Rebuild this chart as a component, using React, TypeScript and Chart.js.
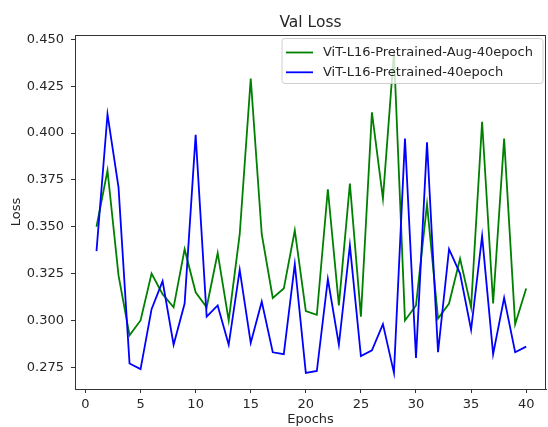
import React, { useEffect, useRef } from "react";
import { Chart, registerables } from "chart.js";

Chart.register(...registerables);

const epochs = [1, 2, 3, 4, 5, 6, 7, 8, 9, 10, 11, 12, 13, 14, 15, 16, 17, 18, 19, 20, 21, 22, 23, 24, 25, 26, 27, 28, 29, 30, 31, 32, 33, 34, 35, 36, 37, 38, 39, 40];

const augLoss = [
  0.350, 0.380, 0.324, 0.292, 0.300, 0.325, 0.314, 0.307, 0.338, 0.315,
  0.307, 0.336, 0.300, 0.346, 0.429, 0.346, 0.312, 0.317, 0.348, 0.305,
  0.303, 0.370, 0.308, 0.373, 0.302, 0.411, 0.365, 0.443, 0.300, 0.308,
  0.362, 0.301, 0.309, 0.333, 0.307, 0.406, 0.309, 0.397, 0.298, 0.317,
];

const baseLoss = [
  0.337, 0.410, 0.371, 0.277, 0.274, 0.306, 0.321, 0.287, 0.309, 0.399,
  0.302, 0.308, 0.287, 0.327, 0.288, 0.310, 0.283, 0.282, 0.330, 0.272,
  0.273, 0.322, 0.287, 0.340, 0.281, 0.284, 0.298, 0.272, 0.397, 0.280,
  0.395, 0.283, 0.338, 0.325, 0.295, 0.345, 0.282, 0.312, 0.283, 0.286,
];

const seriesNames = ["ViT-L16-Pretrained-Aug-40epoch", "ViT-L16-Pretrained-40epoch"];
const seriesColors = ["#008000", "#0000ff"];
const xTicks = [0, 5, 10, 15, 20, 25, 30, 35, 40];
const yTicks = [0.275, 0.3, 0.325, 0.35, 0.375, 0.4, 0.425, 0.45];

const chartTitle = "Val Loss";
const xLabel = "Epochs";
const yLabel = "Loss";

const FONT = "'DejaVu Sans', sans-serif";
const TEXT = "#262626";
const AXIS = "#333333";

const frameAndLegend = {
  id: "frameAndLegend",
  afterDatasetsDraw(chart: any) {
    const { ctx, chartArea } = chart;
    const { left, right, top, bottom } = chartArea;
    ctx.save();
    // top and right spines
    ctx.strokeStyle = AXIS;
    ctx.lineWidth = 1;
    ctx.beginPath();
    ctx.moveTo(left, Math.round(top) + 0.5);
    ctx.lineTo(right, Math.round(top) + 0.5);
    ctx.moveTo(Math.round(right) - 0.5, top);
    ctx.lineTo(Math.round(right) - 0.5, bottom);
    ctx.stroke();

    // legend
    const bw = 261;
    const bh = 45;
    const bx = right - 3 - bw;
    const by = top + 3.5;
    ctx.beginPath();
    const r = 3;
    ctx.moveTo(bx + r, by);
    ctx.lineTo(bx + bw - r, by);
    ctx.quadraticCurveTo(bx + bw, by, bx + bw, by + r);
    ctx.lineTo(bx + bw, by + bh - r);
    ctx.quadraticCurveTo(bx + bw, by + bh, bx + bw - r, by + bh);
    ctx.lineTo(bx + r, by + bh);
    ctx.quadraticCurveTo(bx, by + bh, bx, by + bh - r);
    ctx.lineTo(bx, by + r);
    ctx.quadraticCurveTo(bx, by, bx + r, by);
    ctx.closePath();
    ctx.fillStyle = "rgba(255,255,255,0.8)";
    ctx.fill();
    ctx.strokeStyle = "#d0d0d0";
    ctx.lineWidth = 1;
    ctx.stroke();

    ctx.font = `13px ${FONT}`;
    ctx.textBaseline = "middle";
    ctx.textAlign = "left";
    seriesNames.forEach((name, i) => {
      const yy = by + 14 + i * 19.8;
      ctx.strokeStyle = seriesColors[i];
      ctx.lineWidth = 1.8;
      ctx.beginPath();
      ctx.moveTo(bx + 4, yy);
      ctx.lineTo(bx + 31, yy);
      ctx.stroke();
      ctx.fillStyle = TEXT;
      ctx.fillText(name, bx + 41, yy + 0.5);
    });
    ctx.restore();
  },
};

export default function App() {
  const ref = useRef<HTMLCanvasElement | null>(null);

  useEffect(() => {
    if (!ref.current) return;
    const lossSets = [augLoss, baseLoss];
    const chart = new Chart(ref.current, {
      type: "line",
      data: {
        datasets: lossSets.map((vals, i) => ({
          label: seriesNames[i],
          data: epochs.map((e, j) => ({ x: e, y: vals[j] })),
          borderColor: seriesColors[i],
          backgroundColor: seriesColors[i],
          borderWidth: 1.8,
          pointRadius: 0,
          tension: 0,
          fill: false,
          order: i === 0 ? 1 : 0,
        })),
      },
      options: {
        responsive: false,
        animation: false,
        devicePixelRatio: 1,
        layout: { padding: { left: 0, right: 2, top: 0, bottom: 0 } },
        plugins: {
          legend: { display: false },
          tooltip: { enabled: false },
          title: {
            display: true,
            text: chartTitle,
            fullSize: false,
            color: TEXT,
            font: { family: FONT, size: 15.5, weight: "normal" },
            padding: { top: 14, bottom: 2.4 },
          },
        },
        scales: {
          x: {
            type: "linear",
            min: -0.95,
            max: 41.8,
            afterBuildTicks: (s: any) => {
              s.ticks = xTicks.map((v) => ({ value: v }));
            },
            afterFit: (s: any) => {
              s.height = 38;
            },
            ticks: {
              color: TEXT,
              font: { family: FONT, size: 13 },
              padding: 4,
              maxRotation: 0,
              autoSkip: false,
            },
            grid: { drawOnChartArea: false, tickLength: 4, color: AXIS },
            border: { color: AXIS, width: 1 },
            title: {
              display: true,
              text: xLabel,
              color: TEXT,
              font: { family: FONT, size: 13 },
              padding: { top: 0, bottom: 0 },
            },
          },
          y: {
            type: "linear",
            min: 0.2634,
            max: 0.4523,
            afterBuildTicks: (s: any) => {
              s.ticks = yTicks.map((v) => ({ value: v }));
            },
            afterFit: (s: any) => {
              s.width = 75;
            },
            ticks: {
              color: TEXT,
              font: { family: FONT, size: 13 },
              padding: 7,
              callback: (v: any) => Number(v).toFixed(3),
            },
            grid: { drawOnChartArea: false, tickLength: 4, color: AXIS },
            border: { color: AXIS, width: 1 },
            title: {
              display: true,
              text: yLabel,
              color: TEXT,
              font: { family: FONT, size: 13 },
              padding: { top: 9, bottom: 0 },
            },
          },
        },
      } as any,
      plugins: [frameAndLegend],
    });
    return () => chart.destroy();
  }, []);

  return (
    <div style={{ position: "fixed", left: 0, top: 0, width: 548, height: 427, background: "#fff" }}>
      <canvas ref={ref} width={548} height={427} style={{ display: "block", width: 548, height: 427 }} />
    </div>
  );
}
